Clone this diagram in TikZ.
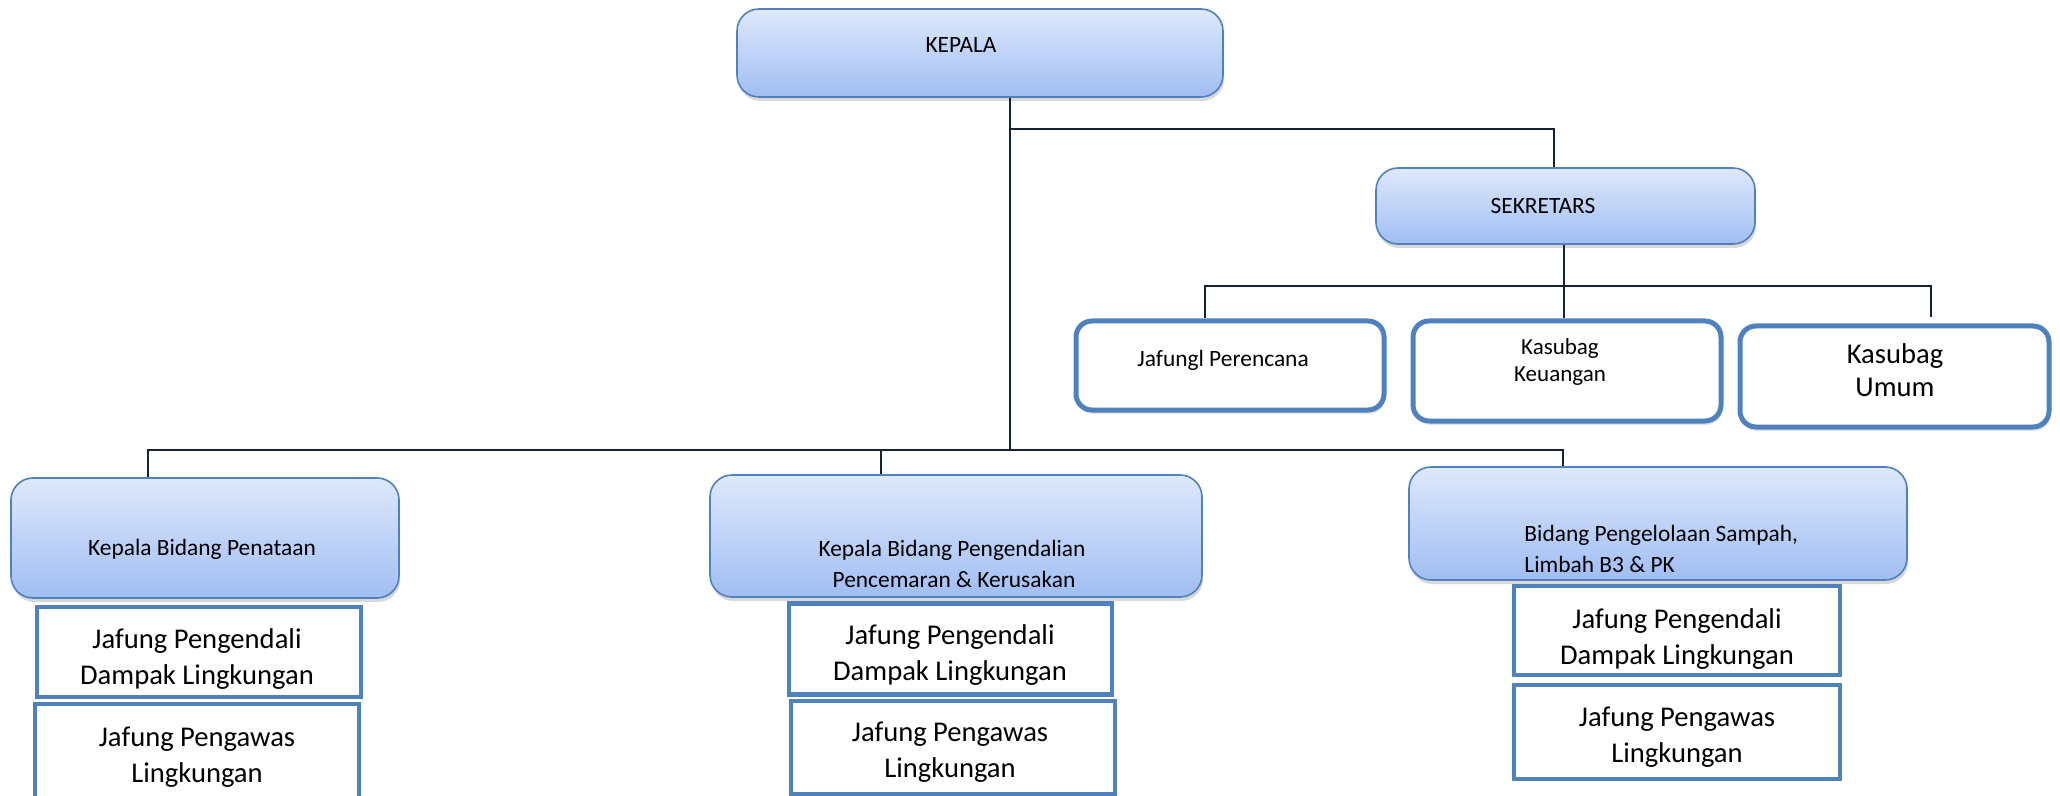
\documentclass[tikz,border=0pt]{standalone}
\usepackage{fontspec}
\setmainfont{Carlito}
\usetikzlibrary{shadows,calc}
\definecolor{boxline}{RGB}{79,129,189}
\definecolor{topblue}{RGB}{222,232,251}
\definecolor{botblue}{RGB}{160,190,243}
\definecolor{connc}{RGB}{22,34,56}
\begin{document}
\begin{tikzpicture}[x=0.5pt,y=-0.5pt,
  bluebox/.style={draw=boxline, line width=0.8pt, rounded corners=11pt, top color=topblue, bottom color=botblue, inner sep=0pt,
    drop shadow={shadow xshift=0.6pt, shadow yshift=-2pt, opacity=0.3}},
  whitebox/.style={draw=boxline, line width=2.5pt, rounded corners=8pt, fill=white, inner sep=0pt,
    drop shadow={shadow xshift=0.6pt, shadow yshift=-2pt, opacity=0.2}},
  subbox/.style={draw=boxline, line width=2.2pt, fill=white, inner sep=0pt},
  conn/.style={draw=connc, line width=1.35pt},
  smalltxt/.style={font=\fontsize{11.7}{15.5}\selectfont, align=center, inner sep=0pt},
  smalltxtb/.style={font=\fontsize{11.5}{13.5}\selectfont, align=center, inner sep=0pt},
  bigtxt/.style={font=\fontsize{14.3}{18}\selectfont, align=center, inner sep=0pt},
  bigtxtb/.style={font=\fontsize{14.3}{16.5}\selectfont, align=center, inner sep=0pt}]
\fill[white] (0,0) rectangle (2060,796);
\useasboundingbox (0,0) rectangle (2060,796);
\clip (0,0) rectangle (2060,796);

% top level
\node[bluebox, minimum width=243pt, minimum height=44pt] (kepala) at (980,53) {};
\node[smalltxt] (tkepala) at (961,45) {KEPALA};

\node[bluebox, minimum width=189.5pt, minimum height=38pt] (sek) at (1565.5,206) {};
\node[smalltxt] (tsek) at (1543,206) {SEKRETARS};

% sekretariat row
\node[whitebox, minimum width=154pt, minimum height=44.5pt] (jp) at (1230,365.5) {};
\node[smalltxt] (tjp) at (1223,360) {Jafungl Perencana};

\node[whitebox, minimum width=154pt, minimum height=50pt] (kk) at (1567,371) {};
\node[smalltxtb] (tkk) at (1560,362) {Kasubag\\Keuangan};

\node[whitebox, minimum width=154.5pt, minimum height=50.5pt] (ku) at (1894.5,376.5) {};
\node[bigtxtb] (tku) at (1895,370) {Kasubag\\Umum};

% bidang row
\node[bluebox, minimum width=194pt, minimum height=60pt] (ka) at (205,538) {};
\node[smalltxt] (tka) at (202,549) {Kepala Bidang Penataan};

\node[bluebox, minimum width=246pt, minimum height=61pt] (kb) at (956,536) {};
\node[smalltxt] (tkb) at (952,564) {Kepala Bidang Pengendalian\\ \,Pencemaran \& Kerusakan};

\node[bluebox, minimum width=249pt, minimum height=56.5pt] (kc) at (1658,523.5) {};
\node[smalltxt, align=left, anchor=west] (tkc) at (1524,549) {Bidang Pengelolaan Sampah,\\Limbah B3 \& PK};

% jafung boxes
\node[subbox, minimum width=162pt, minimum height=45pt] (a1) at (199,652) {};
\node[bigtxt] (ta1) at (197,659) {Jafung Pengendali\\Dampak Lingkungan};
\node[subbox, minimum width=162pt, minimum height=56pt] (a2) at (197,760) {};
\node[bigtxt] (ta2) at (197,757) {Jafung Pengawas\\Lingkungan};

\node[subbox, minimum width=161.5pt, minimum height=45.5pt] (b1) at (950.5,649) {};
\node[bigtxt] (tb1) at (950,655) {Jafung Pengendali\\Dampak Lingkungan};
\node[subbox, minimum width=162pt, minimum height=46.5pt] (b2) at (953,747.5) {};
\node[bigtxt] (tb2) at (950,752) {Jafung Pengawas\\Lingkungan};

\node[subbox, minimum width=163pt, minimum height=44.5pt] (c1) at (1677,630.5) {};
\node[bigtxt] (tc1) at (1677,639) {Jafung Pengendali\\Dampak Lingkungan};
\node[subbox, minimum width=163pt, minimum height=47pt] (c2) at (1677,732) {};
\node[bigtxt] (tc2) at (1677,737) {Jafung Pengawas\\Lingkungan};

% connectors
\coordinate (kx) at (1010,129);
\coordinate (sx) at (1554,129);
\coordinate (bh) at (0,450);
\draw[conn] (kepala.south -| kx) -- (kx |- bh);
\draw[conn] (kx) -- (sx) -- (sx |- sek.north);

\coordinate (sb) at (1564,286);
\coordinate (sl) at (1205,286);
\coordinate (sr) at (1931,286);
\coordinate (srend) at (1931,317);
\draw[conn] (sek.south -| sb) -- (sb) -- (kk.north -| sb);
\draw[conn] (jp.north -| sl) -- (sl) -- (sr) -- (srend);

\coordinate (bl) at (148,450);
\coordinate (bm) at (881,450);
\coordinate (br) at (1563,450);
\draw[conn] (ka.north -| bl) -- (bl) -- (br) -- (kc.north -| br);
\draw[conn] (bm) -- (kb.north -| bm);
\end{tikzpicture}
\end{document}
